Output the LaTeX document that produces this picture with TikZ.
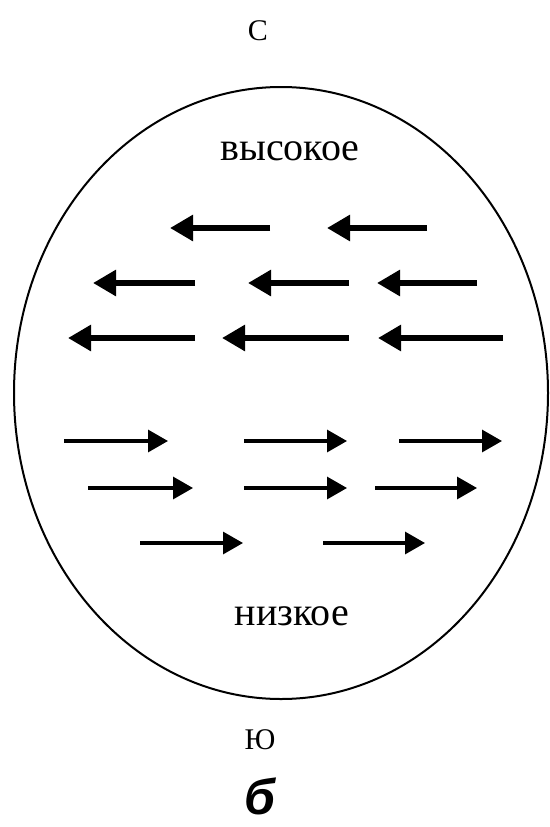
\documentclass[tikz,border=0pt]{standalone}
\usepackage{fontspec}
\setmainfont{Liberation Serif}
\newfontfamily\labelfont{Liberation Serif}
\newfontfamily\captfont{Liberation Sans}
\usetikzlibrary{arrows.meta}

\begin{document}
\begin{tikzpicture}[x=1pt,y=-1pt]
\tikzstyle{upwind}=[line width=6.5pt,-{Triangle[length=23pt,width=25pt]}]
\tikzstyle{lowwind}=[line width=3.2pt,-{Triangle[length=20pt,width=22pt]}]
\tikzstyle{side}=[font=\labelfont\fontsize{30}{30}\selectfont,anchor=base]
\tikzstyle{level}=[font=\labelfont\fontsize{40}{40}\selectfont,anchor=base]
\useasboundingbox (0,0) rectangle (549,827);
\draw[line width=2pt] (281,393) ellipse [x radius=267, y radius=306];
\node (north) [side] at (258,40) {С};
\node (high) [level] at (290,160) {высокое};
\node (low) [level] at (292,625) {низкое};
\node (south) [side] at (260,749) {Ю};
\node (caption) [font=\captfont\bfseries\itshape\fontsize{50}{50}\selectfont,anchor=base,inner sep=0pt,text depth=0pt] at (260,814) {б};
% upper flow, to the west
\foreach \tail/\tip/\yy in {270/170/228, 427/327/228,
    195/93/283, 349/248/283, 477/377/283,
    195/68/338, 349/222/338, 503/378/338}
  \draw[upwind] (\tail,\yy) -- (\tip,\yy);
% lower flow, to the east
\foreach \tail/\tip/\yy in {64/168/441, 244/347/441, 399/502/441,
    88/193/488, 244/347/488, 375/477/488,
    140/243/543, 323/425/543}
  \draw[lowwind] (\tail,\yy) -- (\tip,\yy);
\end{tikzpicture}
\end{document}
